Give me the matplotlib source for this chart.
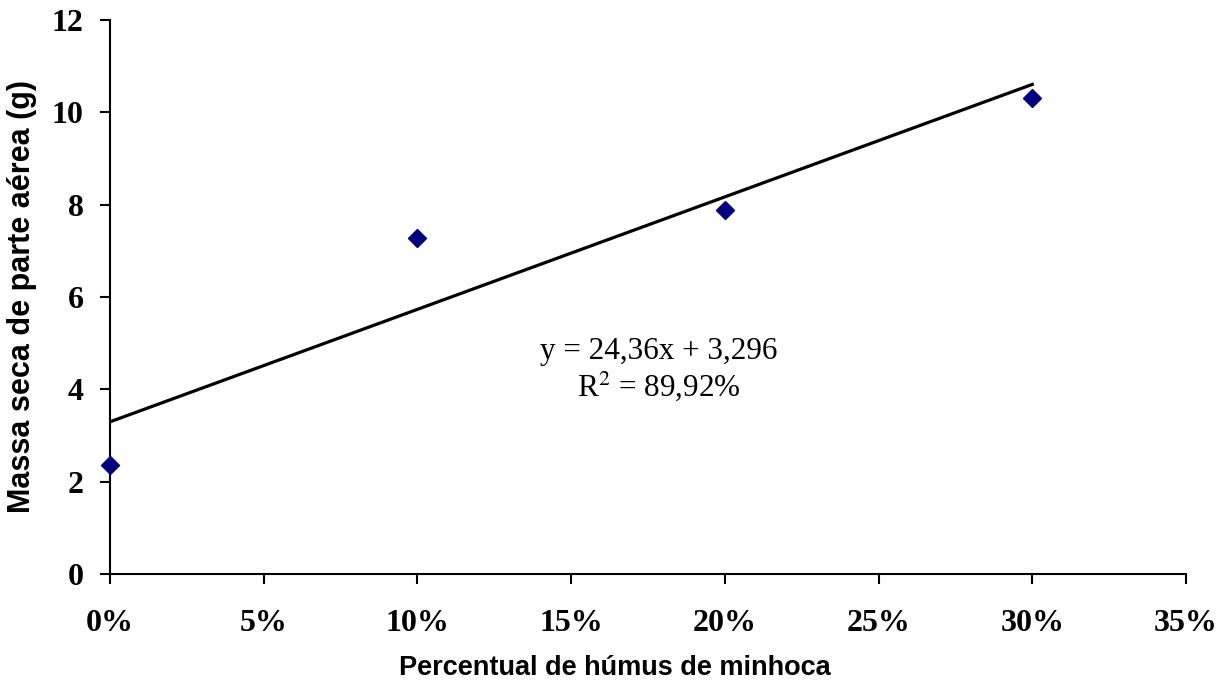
import matplotlib
matplotlib.use("Agg")
import matplotlib.pyplot as plt
import numpy as np

x_values = [0.0, 0.10, 0.20, 0.30]
y_values = [2.37, 7.27, 7.88, 10.30]
slope = 24.36
intercept = 3.296
x_ticks = [0.0, 0.05, 0.10, 0.15, 0.20, 0.25, 0.30, 0.35]
x_tick_labels = ["0%", "5%", "10%", "15%", "20%", "25%", "30%", "35%"]
y_ticks = [0, 2, 4, 6, 8, 10, 12]

fig = plt.figure(figsize=(12.26, 6.88), dpi=100)
ax = fig.add_axes([0.0897, 0.1657, 0.8777, 0.8053])

xl = np.array([x_values[0], x_values[-1]])
ax.plot(xl, slope * xl + intercept, color="black", lw=2.3, zorder=2)
ax.plot(x_values, y_values, linestyle="none", marker="D", markersize=9,
        color="#000080", zorder=3, clip_on=False)

ax.set_xlim(0, 0.35)
ax.set_ylim(0, 12)
ax.set_xticks(x_ticks)
ax.set_xticklabels(x_tick_labels)
ax.set_yticks(y_ticks)
for side in ["top", "right"]:
    ax.spines[side].set_visible(False)
for side in ["left", "bottom"]:
    ax.spines[side].set_linewidth(1.5)
ax.tick_params(direction="out", length=7, width=1.5)
ax.tick_params(axis="x", pad=18)
ax.tick_params(axis="y", pad=12)
for lab in ax.get_xticklabels() + ax.get_yticklabels():
    lab.set_family("Liberation Serif")
    lab.set_fontweight("bold")
    lab.set_fontsize(23)

ax.set_xlabel("Percentual de húmus de minhoca", family="Liberation Sans",
              fontweight="bold", fontsize=19.5, va="center")
ax.xaxis.set_label_coords(0.469, -0.1697)
ax.set_ylabel("Massa seca de parte aérea (g)", family="Liberation Sans",
              fontweight="bold", fontsize=22, va="center")
ax.yaxis.set_label_coords(-0.0818, 0.5)

ax.text(0.1786, 4.42, "y = 24,36x + 3,296\nR$^{2}$ = 89,92%", family="Liberation Serif",
        fontsize=22.4, ha="center", va="center", linespacing=1.1,
        math_fontfamily="stix")

fig.savefig("out.png", dpi=100)
